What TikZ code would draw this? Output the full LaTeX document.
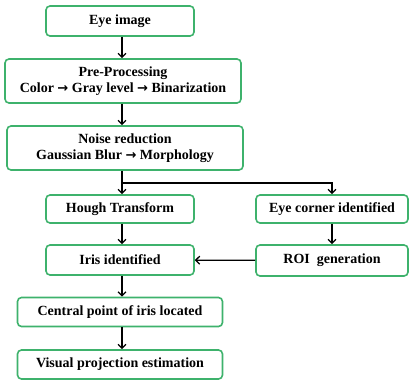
\documentclass[tikz,border=0pt]{standalone}
\usepackage{fontspec}
\setmainfont{Liberation Serif}
\newfontfamily\arrowfont{DejaVu Sans}
\usepackage{xcolor}
\usetikzlibrary{arrows.meta,positioning}
\definecolor{boxgreen}{RGB}{62,178,108}
\newcommand{\rarr}{{\arrowfont\fontsize{13}{15}\selectfont\bfseries →}}

\begin{document}
\begin{tikzpicture}[
  x=1pt,y=-1pt,
  stage/.style={draw=boxgreen, line width=1.6pt, rounded corners=4pt,
    fill=white, align=center, inner sep=1pt, font=\fontsize{14}{16.5}\selectfont\bfseries},
  ->,>={Straight Barb[length=4pt,width=8pt]},line width=1.3pt
]
\useasboundingbox (0,0) rectangle (409,380);
\node[stage, minimum width=148pt, minimum height=30pt] (eye) at (120,21) {Eye image};
\node[stage, minimum width=236pt, minimum height=44pt] (pre) at (123,81)
  {Pre-Processing\\Color \rarr{} Gray level \rarr{} Binarization};
\node[stage, minimum width=236pt, minimum height=44pt] (noise) at (125,148)
  {Noise reduction\\Gaussian Blur \rarr{} Morphology};
\node[stage, minimum width=148pt, minimum height=28pt] (hough) at (120,209) {Hough Transform};
\node[stage, minimum width=152pt, minimum height=28pt] (corner) at (332,209) {Eye corner identified};
\node[stage, minimum width=148pt, minimum height=30pt] (iris) at (120,260) {Iris identified};
\node[stage, minimum width=152pt, minimum height=31pt] (roi) at (332,260.5) {ROI\ \ generation};
\node[stage, minimum width=205pt, minimum height=29pt] (central) at (120,312) {Central point of iris located};
\node[stage, minimum width=205pt, minimum height=29pt] (visual) at (120,364.5) {Visual projection estimation};
\coordinate (split) at (122,183);

\draw (eye.south -| 122,0) -- (pre.north -| 122,0);
\draw (pre.south -| 122,0) -- (noise.north -| 122,0);
\draw[-] (noise.south -| 122,0) -- (split);
\draw (split) -- (hough.north -| 122,0);
\draw (split) -| (corner.north);
\draw (corner) -- (roi);
\draw (hough.south -| 122,0) -- (iris.north -| 122,0);
\draw (roi) -- (iris);
\draw (iris.south -| 122,0) -- (central.north -| 122,0);
\draw (central.south -| 122,0) -- (visual.north -| 122,0);
\end{tikzpicture}
\end{document}
